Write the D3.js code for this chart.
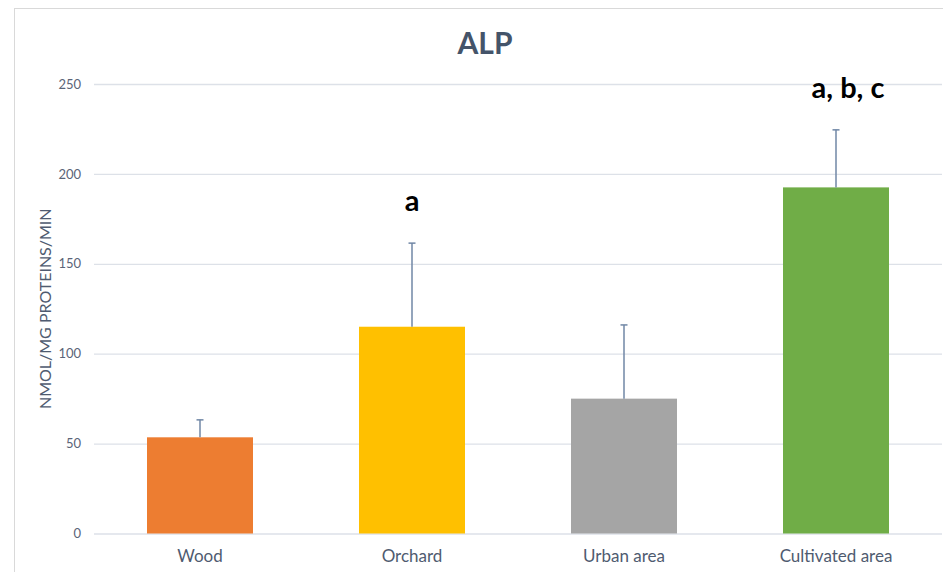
<!DOCTYPE html>
<html>
<head>
<meta charset="utf-8">
<script src="https://cdn.jsdelivr.net/npm/d3@7"></script>
<style>
  html, body { margin: 0; padding: 0; background: #ffffff; }
  svg { display: block; }
</style>
</head>
<body>
<svg id="chart" width="943" height="572"></svg>
<script>
// ALP activity per land-use type (mean ± error), with significance letters
const categories = ["Wood", "Orchard", "Urban area", "Cultivated area"];
const means = [53.5, 115, 75, 192.5];
const errors = [9.7, 46.5, 41, 32];
const letters = ["", "a", "", "a, b, c"];
const barColors = ["#ED7D31", "#FFC000", "#A5A5A5", "#70AD47"];
const yTicks = [0, 50, 100, 150, 200, 250];
const title = "ALP";
const yLabel = "NMOL/MG PROTEINS/MIN";

const svg = d3.select("#chart");
const font = "Lato, 'Open Sans', sans-serif";
const textColor = "#44546A";

const plot = { left: 94, right: 942, top: 84, bottom: 533.5 };

const x = d3.scaleBand()
  .domain(categories)
  .range([plot.left, plot.right])
  .paddingInner(0.5)
  .paddingOuter(0.25);

const y = d3.scaleLinear()
  .domain([0, 250])
  .range([plot.bottom, plot.top]);

// chart frame (left and top edges visible)
svg.append("line")
  .attr("x1", 14.5).attr("x2", 14.5).attr("y1", 8).attr("y2", 572)
  .attr("stroke", "#D9D9D9").attr("stroke-width", 1);
svg.append("line")
  .attr("x1", 14).attr("x2", 943).attr("y1", 8.5).attr("y2", 8.5)
  .attr("stroke", "#D9D9D9").attr("stroke-width", 1);

// y axis: gridlines + tick labels
const yAxis = d3.axisLeft(y)
  .tickValues(yTicks)
  .tickSize(-(plot.right - plot.left))
  .tickPadding(13)
  .tickFormat(d3.format("d"));

const gy = svg.append("g")
  .attr("transform", `translate(${plot.left},0)`)
  .call(yAxis);
gy.select(".domain").remove();
gy.selectAll(".tick line")
  .attr("stroke", "#DDE1E8")
  .attr("stroke-width", 1.3);
gy.selectAll(".tick text")
  .attr("fill", "#5A6478")
  .style("font-family", font)
  .style("font-size", "13px");

// x axis labels
const xAxis = d3.axisBottom(x).tickSize(0).tickPadding(16);
const gx = svg.append("g")
  .attr("transform", `translate(0,${plot.bottom})`)
  .call(xAxis);
gx.select(".domain").remove();
gx.selectAll(".tick text")
  .attr("fill", "#4F5B70")
  .style("font-family", font)
  .style("font-size", "17px");

// bars
svg.append("g")
  .selectAll("rect")
  .data(categories)
  .join("rect")
  .attr("x", d => x(d))
  .attr("width", x.bandwidth())
  .attr("y", (d, i) => y(means[i]))
  .attr("height", (d, i) => y(0) - y(means[i]))
  .attr("fill", (d, i) => barColors[i]);

// error bars (upper only)
const eb = svg.append("g")
  .attr("stroke", "#7087A6")
  .attr("stroke-width", 1.5);
categories.forEach((c, i) => {
  const cx = x(c) + x.bandwidth() / 2;
  eb.append("line")
    .attr("x1", cx).attr("x2", cx)
    .attr("y1", y(means[i])).attr("y2", y(means[i] + errors[i]));
  eb.append("line")
    .attr("x1", cx - 3.5).attr("x2", cx + 3.5)
    .attr("y1", y(means[i] + errors[i])).attr("y2", y(means[i] + errors[i]));
});

// significance letters (longer lists sit slightly right of centre)
svg.append("g")
  .selectAll("text")
  .data(categories)
  .join("text")
  .attr("x", d => x(d) + x.bandwidth() / 2)
  .attr("dx", (d, i) => letters[i].length > 1 ? 12 : 0)
  .attr("y", (d, i) => y(means[i] + errors[i]) - 32)
  .attr("text-anchor", "middle")
  .attr("fill", "#000000")
  .style("font-family", font)
  .style("font-weight", "700")
  .style("font-size", "29px")
  .text((d, i) => letters[i]);

// title
svg.append("text")
  .attr("x", 485)
  .attr("y", 54)
  .attr("text-anchor", "middle")
  .attr("fill", textColor)
  .style("font-family", font)
  .style("font-weight", "700")
  .style("font-size", "30px")
  .text(title);

// y axis label
svg.append("text")
  .attr("transform", `translate(51,${(plot.top + plot.bottom) / 2}) rotate(-90)`)
  .attr("text-anchor", "middle")
  .attr("fill", "#4F5B70")
  .style("font-family", font)
  .style("font-size", "16px")
  .text(yLabel);
</script>
</body>
</html>
